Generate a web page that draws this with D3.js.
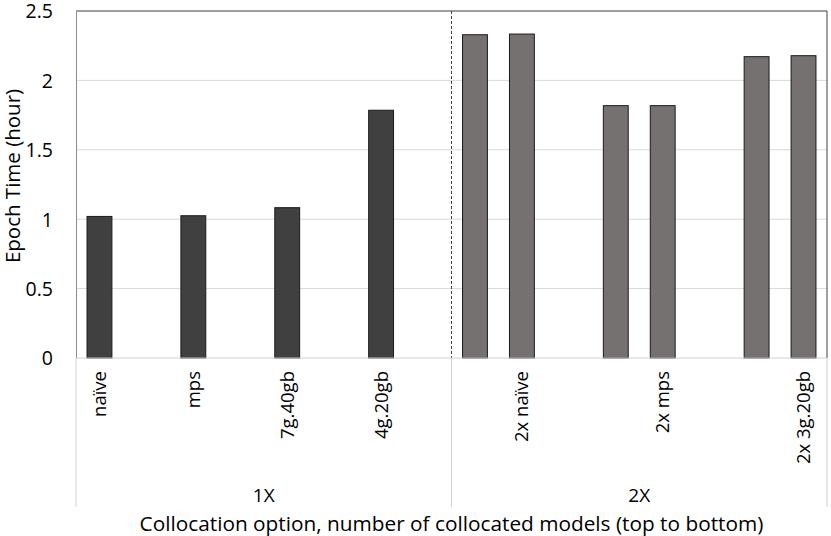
<!DOCTYPE html>
<html>
<head>
<meta charset="utf-8">
<script src="https://cdn.jsdelivr.net/npm/d3@7"></script>
<style>
    html, body { margin: 0; padding: 0; background: #fff; overflow: hidden; }
    svg { display: block; }
    text { font-family: "Open Sans", sans-serif; fill: #000; }
</style>
</head>
<body>
<svg id="chart"></svg>
<script>
// one slot per column position, empty label / null value for gaps
const slotGroups = ["1X", "1X", "1X", "1X", "1X", "1X", "1X", "1X",
                    "2X", "2X", "2X", "2X", "2X", "2X", "2X", "2X"];
const slotLabels = ["naïve", "", "mps", "", "7g.40gb", "", "4g.20gb", "",
                    "", "2x naïve", "", "", "2x mps", "", "", "2x 3g.20gb"];
const slotValues = [1.02, null, 1.025, null, 1.083, null, 1.785, null,
                    2.329, 2.334, null, 1.818, 1.818, null, 2.171, 2.178];
const groups = ["1X", "2X"];
const groupColors = ["#404040", "#767171"];
const yTicks = [0, 0.5, 1, 1.5, 2, 2.5];

const width = 831, height = 536;
const margin = {top: 11, right: 4, bottom: 178, left: 76};
const innerWidth = width - margin.left - margin.right;
const innerHeight = height - margin.top - margin.bottom;

const svg = d3.select('#chart')
    .attr('width', width)
    .attr('height', height);

const slots = slotValues.map((v, i) => ({
    i: i,
    value: v,
    label: slotLabels[i],
    group: slotGroups[i]
}));

const xScale = d3.scaleBand()
    .domain(slots.map(d => d.i))
    .range([0, innerWidth])
    .paddingInner(0.47)
    .paddingOuter(0.235);

const yScale = d3.scaleLinear()
    .domain([0, 2.5])
    .range([innerHeight, 0]);

const color = d3.scaleOrdinal().domain(groups).range(groupColors);

const g = svg.append('g')
    .attr('transform', `translate(${margin.left}, ${margin.top})`);

// gridlines
g.selectAll('.grid')
    .data(yTicks.filter(t => t > 0 && t < 2.5))
    .enter()
    .append('line')
    .attr('x1', 0)
    .attr('x2', innerWidth)
    .attr('y1', d => yScale(d))
    .attr('y2', d => yScale(d))
    .attr('stroke', '#d9d9d9')
    .attr('stroke-width', 1);

// group boundaries
const groupEdges = groups.map(gr => {
    const idx = slots.filter(d => d.group === gr).map(d => d.i);
    const x0 = xScale(d3.min(idx)) - xScale.step() * xScale.paddingInner() / 2;
    const x1 = xScale(d3.max(idx)) + xScale.bandwidth() + xScale.step() * xScale.paddingInner() / 2;
    return {group: gr, x0: x0, x1: x1};
});

// dashed separator between groups
groupEdges.slice(1).forEach(e => {
    g.append('line')
        .attr('x1', e.x0).attr('x2', e.x0)
        .attr('y1', 0).attr('y2', innerHeight)
        .attr('stroke', '#404040')
        .attr('stroke-width', 1)
        .attr('stroke-dasharray', '3,2');
});

// bars
g.selectAll('.bar')
    .data(slots.filter(d => d.value !== null))
    .enter()
    .append('rect')
    .attr('x', d => xScale(d.i))
    .attr('y', d => yScale(d.value))
    .attr('width', xScale.bandwidth())
    .attr('height', d => innerHeight - yScale(d.value))
    .attr('fill', d => color(d.group))
    .attr('stroke', '#1a1a1a')
    .attr('stroke-width', 1);

// plot frame
g.append('line')
    .attr('x1', 0).attr('x2', innerWidth)
    .attr('y1', 0).attr('y2', 0)
    .attr('stroke', '#404040');
g.append('line')
    .attr('x1', innerWidth).attr('x2', innerWidth)
    .attr('y1', 0).attr('y2', innerHeight)
    .attr('stroke', '#404040');

// y axis
const yAxis = g.append('g')
    .call(d3.axisLeft(yScale).tickValues(yTicks).tickSize(0).tickPadding(23).tickFormat(d3.format('')));
yAxis.select('.domain').attr('stroke', '#8c8c8c');
yAxis.selectAll('text')
    .style('font-size', '19.5px')
    .style('font-family', '"Open Sans", sans-serif')
    .attr('dy', '0.35em');

// x axis baseline and group dividers
g.append('line')
    .attr('x1', 0).attr('x2', innerWidth)
    .attr('y1', innerHeight).attr('y2', innerHeight)
    .attr('stroke', '#d0d0d0');

const dividerX = [groupEdges[0].x0].concat(groupEdges.map(e => e.x1));
g.selectAll('.divider')
    .data(dividerX)
    .enter()
    .append('line')
    .attr('x1', d => d).attr('x2', d => d)
    .attr('y1', innerHeight).attr('y2', innerHeight + 149)
    .attr('stroke', '#d0d0d0');

// category labels
g.selectAll('.cat')
    .data(slots.filter(d => d.label !== ''))
    .enter()
    .append('text')
    .attr('transform', d => `translate(${xScale(d.i) + xScale.bandwidth() / 2}, ${innerHeight + 13}) rotate(-90)`)
    .attr('dy', '0.35em')
    .style('text-anchor', 'end')
    .style('font-size', '18.5px')
    .text(d => d.label);

// group labels
g.selectAll('.grp')
    .data(groupEdges)
    .enter()
    .append('text')
    .attr('x', d => (d.x0 + d.x1) / 2)
    .attr('y', innerHeight + 137)
    .attr('dy', '0.35em')
    .style('text-anchor', 'middle')
    .style('font-size', '19px')
    .text(d => d.group);

// axis titles
svg.append('text')
    .attr('x', margin.left + innerWidth / 2)
    .attr('y', height - 12)
    .attr('dy', '0.35em')
    .style('text-anchor', 'middle')
    .style('font-size', '20.8px')
    .text('Collocation option, number of collocated models (top to bottom)');

svg.append('text')
    .attr('transform', `translate(13, 176) rotate(-90)`)
    .attr('dy', '0.35em')
    .style('text-anchor', 'middle')
    .style('font-size', '20.5px')
    .text('Epoch Time (hour)');
</script>
</body>
</html>
